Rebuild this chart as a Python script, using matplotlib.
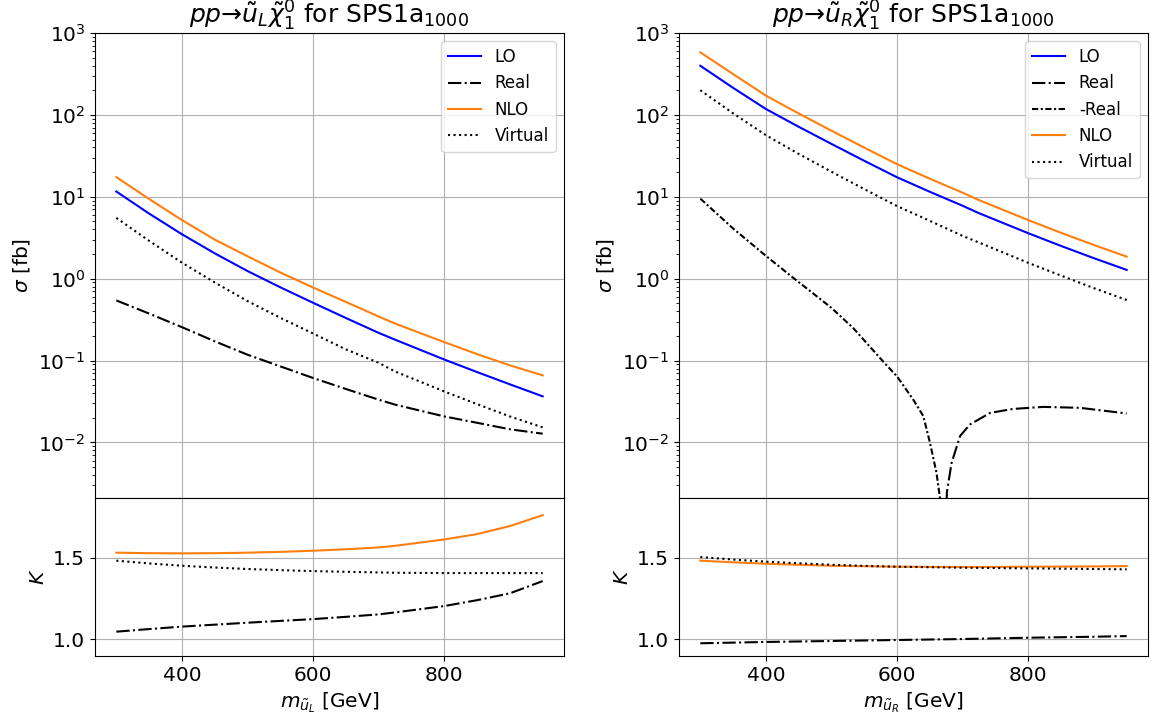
import numpy as np
import matplotlib
matplotlib.use('Agg')
import matplotlib.pyplot as plt

# Mass grid for the smooth curves
mass = np.array([300, 350, 400, 450, 500, 550, 600, 650, 700, 725, 800, 850, 900, 950])

# Left: u_L chi_1^0 cross sections [fb]
lo_l = [11.6, 6.24, 3.49, 2.04, 1.24, 0.785, 0.508, 0.331, 0.218, 0.18, 0.103, 0.0724, 0.0513, 0.0366]
nlo_l = [17.4, 9.4, 5.2, 3.0, 1.88, 1.19, 0.78, 0.52, 0.345, 0.283, 0.168, 0.120, 0.0875, 0.0660]
virt_l = [5.53, 2.90, 1.57, 0.90, 0.533, 0.333, 0.214, 0.137, 0.094, 0.0736, 0.042, 0.0294, 0.0208, 0.0153]
real_l = [0.543, 0.375, 0.256, 0.172, 0.118, 0.085, 0.0613, 0.045, 0.0333, 0.029, 0.0208, 0.0174, 0.0145, 0.0128]

# Left: K factors
k_nlo_l = [1.531, 1.528, 1.527, 1.528, 1.531, 1.536, 1.543, 1.552, 1.563, 1.573, 1.612, 1.645, 1.694, 1.761]
k_virt_l = [1.482, 1.465, 1.451, 1.440, 1.431, 1.424, 1.418, 1.414, 1.410, 1.408, 1.406, 1.406, 1.406, 1.406]
k_real_l = [1.047, 1.063, 1.078, 1.090, 1.102, 1.113, 1.124, 1.138, 1.153, 1.165, 1.204, 1.240, 1.282, 1.357]

# Right: u_R chi_1^0 cross sections [fb]
lo_r = [398, 214, 118, 71.6, 44.2, 27.5, 17.3, 11.5, 7.76, 6.3, 3.59, 2.51, 1.78, 1.28]
nlo_r = [580, 315, 172, 104, 64.1, 39.8, 25.0, 16.6, 11.2, 9.1, 5.19, 3.63, 2.58, 1.86]
virt_r = [200, 104.6, 56.5, 33.4, 20.2, 12.4, 7.7, 5.08, 3.33, 2.76, 1.56, 1.09, 0.767, 0.549]

# Right: real part changes sign near 672 GeV
mass_real_r = np.array([300, 350, 400, 440, 500, 533, 580, 600, 625, 640, 650, 660, 665, 669,
                        674, 676, 683, 696, 711, 742, 777, 823, 879, 950])
real_r = np.array([-9.5, -4.1, -1.9, -1.05, -0.44, -0.25, -0.095, -0.064, -0.033, -0.021, -0.010,
                   -0.0043, -0.0022, -0.0008, 0.0010, 0.0025, 0.0056, 0.012, 0.0166, 0.023,
                   0.0257, 0.0272, 0.0265, 0.0226])

# Right: K factors
k_nlo_r = [1.482, 1.472, 1.463, 1.457, 1.451, 1.448, 1.445, 1.444, 1.443, 1.443, 1.445, 1.446, 1.447, 1.449]
k_virt_r = [1.504, 1.489, 1.476, 1.466, 1.457, 1.450, 1.445, 1.442, 1.439, 1.438, 1.435, 1.433, 1.431, 1.429]
k_real_r = [0.976, 0.980, 0.984, 0.987, 0.990, 0.993, 0.996, 0.999, 1.002, 1.004, 1.010, 1.013, 1.016, 1.020]

tick_fs = 14.5
dense_dashdot = (0, (3, 1.2, 1, 1.2))

fig = plt.figure(figsize=(11.51, 7.19), dpi=100)

lefts = [95 / 1151, 679 / 1151]
width = 469 / 1151
top_ax = []
bot_ax = []
for left in lefts:
    ax = fig.add_axes([left, 221 / 719, width, 465 / 719])
    axk = fig.add_axes([left, 63 / 719, width, 158 / 719], sharex=ax)
    top_ax.append(ax)
    bot_ax.append(axk)

# Left column
ax, axk = top_ax[0], bot_ax[0]
ax.plot(mass, lo_l, color='b', label='LO')
ax.plot(mass, real_l, 'k-.', label='Real')
ax.plot(mass, nlo_l, color='C1', label='NLO')
ax.plot(mass, virt_l, 'k:', label='Virtual')
ax.set_title(r'$pp$→$\tilde{u}_L\tilde{\chi}_1^0$ for SPS1a$_{1000}$', fontsize=18)
axk.plot(mass, k_nlo_l, color='C1')
axk.plot(mass, k_virt_l, 'k:')
axk.plot(mass, k_real_l, 'k-.')
axk.set_xlabel(r'$m_{\tilde{u}_L}$ [GeV]', fontsize=tick_fs)

# Right column
ax, axk = top_ax[1], bot_ax[1]
neg = real_r < 0
ax.plot(mass, lo_r, color='b', label='LO')
ax.plot(mass_real_r[~neg], real_r[~neg], 'k-.', label='Real')
ax.plot(mass_real_r[neg], -real_r[neg], color='k', linestyle=dense_dashdot, label='-Real')
ax.plot(mass, nlo_r, color='C1', label='NLO')
ax.plot(mass, virt_r, 'k:', label='Virtual')
ax.set_title(r'$pp$→$\tilde{u}_R\tilde{\chi}_1^0$ for SPS1a$_{1000}$', fontsize=18)
axk.plot(mass, k_nlo_r, color='C1')
axk.plot(mass, k_virt_r, 'k:')
axk.plot(mass, k_real_r, 'k-.')
axk.set_xlabel(r'$m_{\tilde{u}_R}$ [GeV]', fontsize=tick_fs)

for ax, axk in zip(top_ax, bot_ax):
    ax.set_yscale('log')
    ax.set_ylim(2.1e-3, 1e3)
    ax.set_ylabel(r'$\sigma$ [fb]', fontsize=tick_fs)
    ax.grid(True)
    ax.legend(loc='upper right', fontsize=12)
    ax.tick_params(labelsize=tick_fs)
    ax.tick_params(axis='x', labelbottom=False)
    axk.set_ylim(0.898, 1.866)
    axk.set_yticks([1.0, 1.5])
    axk.set_ylabel('$K$', fontsize=tick_fs)
    axk.grid(True)
    axk.tick_params(labelsize=tick_fs)
    axk.set_xticks([400, 600, 800])

fig.savefig('out.png', dpi=100)
print("Saved: out.png")
